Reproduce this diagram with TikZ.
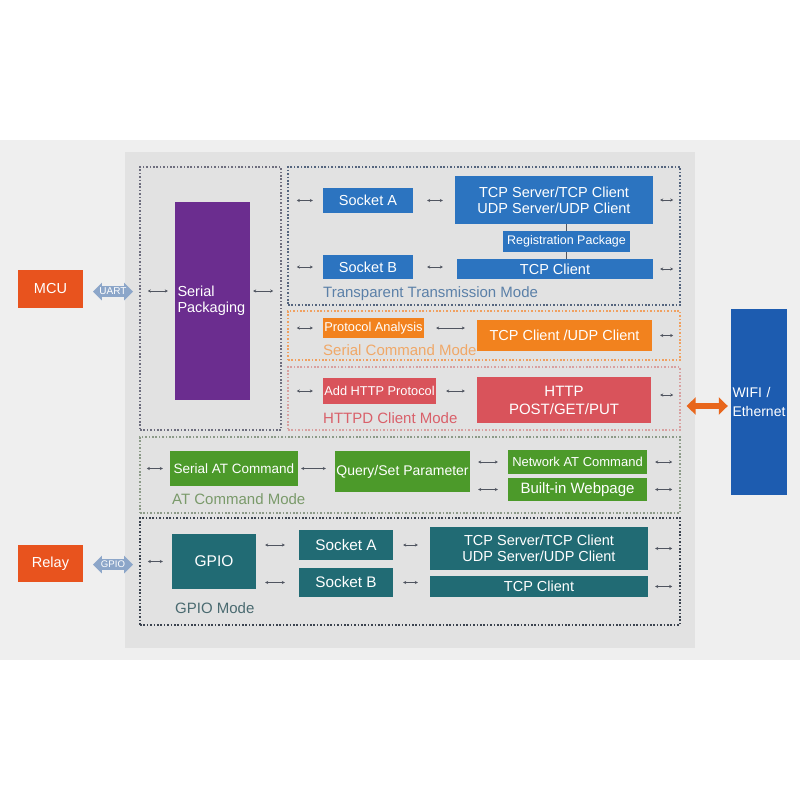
\documentclass[tikz,border=0pt]{standalone}
\usepackage{fontspec}
\setmainfont{Liberation Sans}
\usetikzlibrary{arrows.meta,shapes.arrows}

\definecolor{bandgray}{HTML}{EFEFEF}
\definecolor{panelgray}{HTML}{E2E2E2}
\definecolor{mcured}{HTML}{E8531E}
\definecolor{uartblue}{HTML}{8CA6C9}
\definecolor{serpurple}{HTML}{6B2D8F}
\definecolor{sockblue}{HTML}{2C74C0}
\definecolor{cmdorange}{HTML}{F2821E}
\definecolor{httpred}{HTML}{D9535B}
\definecolor{atgreen}{HTML}{4C9A2A}
\definecolor{gpioteal}{HTML}{216B74}
\definecolor{wifiblue}{HTML}{1D5CB0}
\definecolor{bigorange}{HTML}{E8661C}
\definecolor{arrgray}{HTML}{505560}
\definecolor{serframe}{HTML}{6E6E7E}
\definecolor{transframe}{HTML}{55657E}
\definecolor{cmdframe}{HTML}{F0A060}
\definecolor{httpframe}{HTML}{D8A0A0}
\definecolor{atframe}{HTML}{8C9A88}
\definecolor{gpioframe}{HTML}{3C4450}
\definecolor{translbl}{HTML}{5B80A8}
\definecolor{cmdlbl}{HTML}{F0A868}
\definecolor{httplbl}{HTML}{D9606A}
\definecolor{atlbl}{HTML}{7A9A6A}
\definecolor{gpiolbl}{HTML}{4A6A70}

\tikzset{
  fs/.style 2 args={font=\fontsize{#1}{#2}\selectfont},
  sz/.style 2 args={minimum width=#1, minimum height=#2},
  blk/.style={rectangle, fill=#1, text=white, inner sep=1pt, align=center, fs={14.5}{16}},
  frame/.style={draw=#1, line width=1.2pt, dash pattern=on 1.6pt off 1.8pt, inner sep=0pt},
  modelbl/.style={anchor=west, inner sep=0pt, text=#1, fs={15}{15}},
  lr/.style={{Stealth[length=3pt,width=3.2pt]}-{Stealth[length=3pt,width=3.2pt]}, line width=0.6pt, draw=arrgray},
  tick/.style={line width=0.6pt, draw=arrgray},
  uarr/.style={double arrow, fill=uartblue, text=white, fs={10}{10}, sz={17}{40},
    double arrow head extend=3.5pt, double arrow tip angle=90, inner xsep=0.5pt, inner ysep=1.8pt},
  bigarr/.style={{Triangle[length=9pt,width=17pt]}-{Triangle[length=9pt,width=17pt]}, line width=6pt, draw=bigorange},
}

\begin{document}
\begin{tikzpicture}[x=1pt,y=-1pt]
\useasboundingbox (0,0) rectangle (800,800);
\fill[white] (0,0) rectangle (800,800);
\fill[bandgray] (0,140) rectangle (800,660);
\fill[panelgray] (125,152) rectangle (695,648);

\node[frame=serframe, sz={141}{263}] (serFrame) at (210.5,298.5) {};
\node[frame=transframe, sz={392}{138}] (transFrame) at (484,236) {};
\node[frame=cmdframe, sz={392}{49}] (cmdFrame) at (484,335.5) {};
\node[frame=httpframe, sz={392}{63}] (httpdFrame) at (484,398.5) {};
\node[frame=atframe, sz={540}{76}] (atFrame) at (410,475) {};
\node[frame=gpioframe, sz={540}{107}] (gpioFrame) at (410,571.5) {};

\node[blk=mcured, sz={65}{38}] (mcu) at (50.5,289) {MCU};
\node[uarr] (uart) at (113,291.5) {UART};
\node[blk=serpurple, sz={75}{198}, text width=70, align=left] (serPack) at (212.5,301) {Serial\\Packaging};

\node[blk=sockblue, sz={90}{25}] (sockA) at (368,200.5) {Socket A};
\node[blk=sockblue, sz={198}{48}] (tcpA) at (554,200) {TCP Server/TCP Client\\UDP Server/UDP Client};
\node[blk=sockblue, sz={127}{21}, fs={12.5}{13}] (reg) at (566.5,241.5) {Registration Package};
\node[blk=sockblue, sz={90}{24}] (sockB) at (368,267) {Socket B};
\node[blk=sockblue, sz={196}{20}] (tcpB) at (555,269) {TCP Client};
\node[modelbl=translbl] (transLbl) at (323,294) {Transparent Transmission Mode};

\node[blk=cmdorange, sz={101}{20}, fs={12.8}{13}] (proto) at (373.5,328) {Protocol Analysis};
\node[blk=cmdorange, sz={175}{31}] (tcpudp) at (564.5,335.5) {TCP Client /UDP Client};
\node[modelbl=cmdlbl] (cmdLbl) at (323,350) {Serial Command Mode};

\node[blk=httpred, sz={113}{26}, fs={12.8}{13}] (addHttp) at (379.5,391) {Add HTTP Protocol};
\node[blk=httpred, sz={174}{46}, fs={15}{18}] (http) at (564,400) {HTTP\\POST/GET/PUT};
\node[modelbl=httplbl] (httpdLbl) at (323,418) {HTTPD Client Mode};

\node[blk=atgreen, sz={128}{35}, fs={13.5}{14}] (serAT) at (234,468.5) {Serial AT Command};
\node[blk=atgreen, sz={135}{41}, fs={14}{14}] (query) at (402.5,471.5) {Query/Set Parameter};
\node[blk=atgreen, sz={139}{24}, fs={13}{13}] (netAT) at (577.5,462) {Network AT Command};
\node[blk=atgreen, sz={139}{23}, fs={15}{15}] (web) at (577.5,489.5) {Built-in Webpage};
\node[modelbl=atlbl] (atLbl) at (172,499) {AT Command Mode};

\node[blk=mcured, sz={65}{37}] (relay) at (50.5,563.5) {Relay};
\node[uarr, fs={9.6}{10}] (gpioArr) at (113,564.5) {GPIO};
\node[blk=gpioteal, sz={84}{55}, fs={15.5}{16}] (gpio) at (214,561.5) {GPIO};
\node[blk=gpioteal, sz={94}{30}, fs={15.3}{16}] (gsockA) at (346,545) {Socket A};
\node[blk=gpioteal, sz={94}{29}, fs={15.3}{16}] (gsockB) at (346,582.5) {Socket B};
\node[blk=gpioteal, sz={218}{43}] (gtcpA) at (539,548.5) {TCP Server/TCP Client\\UDP Server/UDP Client};
\node[blk=gpioteal, sz={218}{21}] (gtcpB) at (539,586.5) {TCP Client};
\node[modelbl=gpiolbl] (gpioLbl) at (175,608) {GPIO Mode};

\node[blk=wifiblue, sz={56}{186}, text width=53, align=left, fs={14}{19}] (wifi) at (759,402) {WIFI /\\Ethernet};

\draw[lr] ([xshift=-27,yshift=10]serPack.west) -- ([xshift=-7,yshift=10]serPack.west);
\draw[lr] ([xshift=3,yshift=10]serPack.east) -- ([xshift=23,yshift=10]serPack.east);

\draw[lr] ([xshift=-26]sockA.west) -- ([xshift=-10]sockA.west);
\draw[lr, shorten <=14, shorten >=12] (sockA.east) -- (sockA.east -| tcpA.west);
\draw[lr] ([xshift=7]tcpA.east) -- ([xshift=20]tcpA.east);
\draw[lr] ([xshift=-26]sockB.west) -- ([xshift=-10]sockB.west);
\draw[lr, shorten <=14, shorten >=14] (sockB.east) -- (sockB.east -| tcpB.west);
\draw[lr] ([xshift=7]tcpB.east) -- ([xshift=20]tcpB.east);
\draw[tick] (tcpA.south -| reg) -- (reg.north);
\draw[tick] (reg.south) -- (reg.south |- tcpB.north);

\draw[lr] ([xshift=-26]proto.west) -- ([xshift=-10]proto.west);
\draw[lr, shorten <=12, shorten >=12] (proto.east) -- (proto.east -| tcpudp.west);
\draw[lr] ([xshift=8]tcpudp.east) -- ([xshift=21]tcpudp.east);

\draw[lr] ([xshift=-26]addHttp.west) -- ([xshift=-10]addHttp.west);
\draw[lr, shorten <=10, shorten >=12] (addHttp.east) -- (addHttp.east -| http.west);
\draw[lr] ([xshift=9,yshift=5]http.east) -- ([xshift=22,yshift=5]http.east);

\draw[lr] ([xshift=-23]serAT.west) -- ([xshift=-7]serAT.west);
\draw[lr, shorten <=3, shorten >=9] (serAT.east) -- (serAT.east -| query.west);
\draw[lr, shorten <=8, shorten >=10] (query.east |- netAT) -- (netAT.west);
\draw[lr, shorten <=8, shorten >=10] (query.east |- web) -- (web.west);
\draw[lr] ([xshift=8]netAT.east) -- ([xshift=25]netAT.east);
\draw[lr] ([xshift=8]web.east) -- ([xshift=25]web.east);

\draw[lr] ([xshift=-24]gpio.west) -- ([xshift=-9]gpio.west);
\draw[lr, shorten <=9, shorten >=14] (gpio.east |- gsockA) -- (gsockA.west);
\draw[lr, shorten <=9, shorten >=14] (gpio.east |- gsockB) -- (gsockB.west);
\draw[lr, shorten <=10, shorten >=12] (gsockA.east) -- (gsockA.east -| gtcpA.west);
\draw[lr, shorten <=10, shorten >=12] (gsockB.east) -- (gsockB.east -| gtcpB.west);
\draw[lr] ([xshift=7]gtcpA.east) -- ([xshift=24]gtcpA.east);
\draw[lr] ([xshift=7]gtcpB.east) -- ([xshift=24]gtcpB.east);

\draw[bigarr, shorten <=6, shorten >=3] ([yshift=-7.5]httpdFrame.east) -- ([yshift=-4]wifi.west);
\end{tikzpicture}
\end{document}
